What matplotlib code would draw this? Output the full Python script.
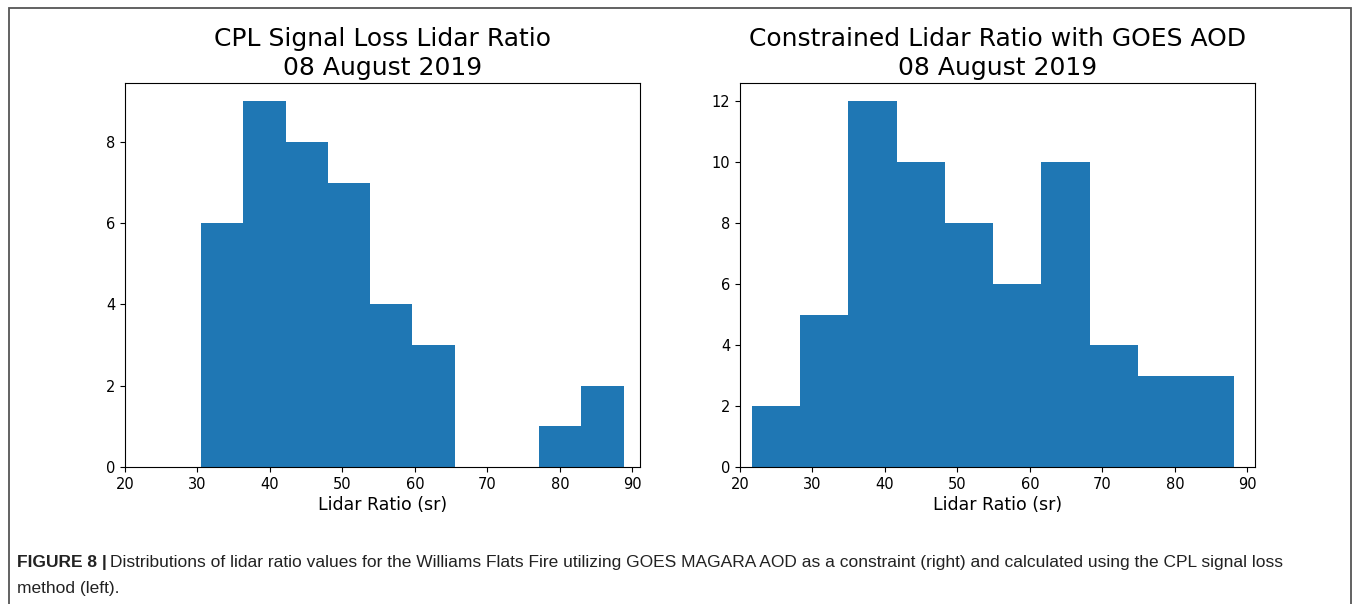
import matplotlib
matplotlib.use("Agg")
import matplotlib.pyplot as plt
import matplotlib.patches as mpatches
import numpy as np

# Histogram bins (sr) and counts for the two lidar ratio retrievals
cpl_edges = [30.49, 36.32, 42.15, 47.98, 53.81, 59.64, 65.46, 71.29, 77.12, 82.95, 88.78]
cpl_counts = [6, 9, 8, 7, 4, 3, 0, 0, 1, 2]

goes_edges = [21.66, 28.31, 34.96, 41.61, 48.26, 54.92, 61.57, 68.22, 74.87, 81.52, 88.17]
goes_counts = [2, 5, 12, 10, 8, 6, 10, 4, 3, 3]

titles = ["CPL Signal Loss Lidar Ratio\n08 August 2019",
          "Constrained Lidar Ratio with GOES AOD\n08 August 2019"]
xlabel = "Lidar Ratio (sr)"
x_ticks = [20, 30, 40, 50, 60, 70, 80, 90]

caption_head = "FIGURE 8 |"
caption_body = ("Distributions of lidar ratio values for the Williams Flats Fire utilizing "
                "GOES MAGARA AOD as a constraint (right) and calculated using the CPL signal loss")
caption_tail = "method (left)."

W, H = 1355, 604
fig = plt.figure(figsize=(W / 100, H / 100), dpi=100)

ax1 = fig.add_axes([125 / W, 1 - 467 / H, 515 / W, 384 / H])
ax2 = fig.add_axes([740 / W, 1 - 467 / H, 515 / W, 384 / H])

for ax, edges, counts, title in [(ax1, cpl_edges, cpl_counts, titles[0]),
                                 (ax2, goes_edges, goes_counts, titles[1])]:
    edges = np.array(edges)
    ax.hist(edges[:-1], bins=edges, weights=counts, color="#1f77b4")
    ax.set_xlim(20, 91.05)
    ax.set_ylim(0, max(counts) * 1.05)
    ax.set_xticks(x_ticks)
    ax.set_title(title, fontsize=18, pad=6, linespacing=1.25)
    ax.set_xlabel(xlabel, fontsize=12.5, labelpad=3)
    ax.tick_params(labelsize=10.5)

ax1.set_yticks([0, 2, 4, 6, 8])
ax2.set_yticks([0, 2, 4, 6, 8, 10, 12])

# Journal panel frame (open at the bottom)
frame = mpatches.Rectangle((9 / W, -0.1), (1351 - 9) / W, 1.1 - 8 / H,
                           transform=fig.transFigure, fill=False,
                           edgecolor="#555555", linewidth=1.3)
fig.add_artist(frame)

cap_size = 12.5
t1 = fig.text(17 / W, 1 - 567 / H, caption_head, fontsize=cap_size, fontweight="bold",
              family="Liberation Sans", color="#222222", va="baseline")
fig.canvas.draw()
renderer = fig.canvas.get_renderer()
bb = t1.get_window_extent(renderer)
fig.text(bb.x1 / W + 3 / W, 1 - 567 / H, caption_body, fontsize=cap_size,
         family="Liberation Sans", color="#222222", va="baseline")
fig.text(17 / W, 1 - 593 / H, caption_tail, fontsize=cap_size,
         family="Liberation Sans", color="#222222", va="baseline")

fig.savefig("out.png", dpi=100)
